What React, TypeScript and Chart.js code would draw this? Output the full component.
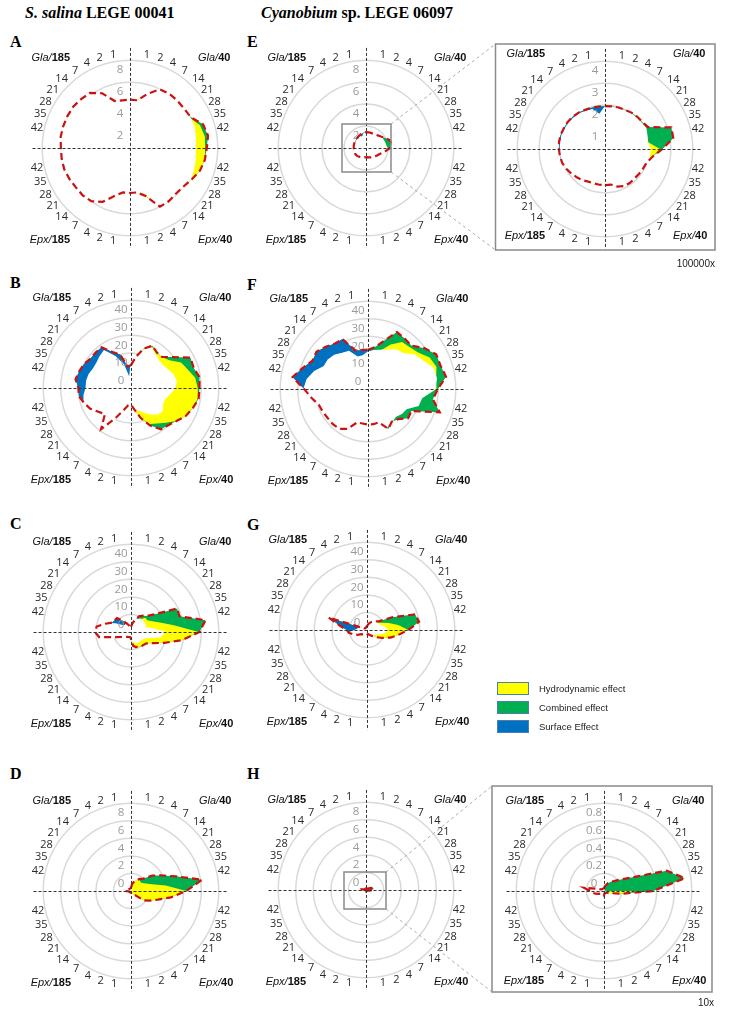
import React, { useEffect, useRef } from 'react';
import { Chart, registerables } from 'chart.js';

Chart.register(...registerables);

const _ = null;

// 40 spokes clockwise from the top; the 4 blank spokes sit on the dashed axes
const SPOKE_LABELS = [
  '', '1', '2', '4', '7', '14', '21', '28', '35', '42',
  '', '42', '35', '28', '21', '14', '7', '4', '2', '1',
  '', '1', '2', '4', '7', '14', '21', '28', '35', '42',
  '', '42', '35', '28', '21', '14', '7', '4', '2', '1',
];
const QUADRANTS: [string, string][] = [['Gla/', '185'], ['Gla/', '40'], ['Epx/', '185'], ['Epx/', '40']];
const SERIES_NAMES = ['Hydrodynamic effect', 'Combined effect', 'Surface Effect'];
const NO_BAND: (number | null)[] = [
  _, _, _, _, _, _, _, _, _, _,
  _, _, _, _, _, _, _, _, _, _,
  _, _, _, _, _, _, _, _, _, _,
  _, _, _, _, _, _, _, _, _, _,
];

// TOTAL = red dashed outline (combined effect fills up to it)
// BASE = inner white boundary (null = same as total)
// HYDRO = yellow band edge, SURF = blue band edge (null = not visible)

// ---------- A ----------
const A_TICKS = [0, 2, 4, 6, 8];
const A_TOTAL = [
  4.4, 4.4, 5.2, 6.0, 6.1, 6.1, 6.1, 6.2, 7.0, 7.2,
  7.0, 6.9, 6.7, 6.3, 6.0, 5.9, 6.0, 6.0, 4.6, 4.1,
  4.1, 4.1, 4.6, 5.5, 6.0, 6.1, 6.1, 6.2, 6.3, 6.3,
  6.3, 6.4, 6.4, 6.4, 6.4, 6.3, 6.2, 5.6, 4.5, 4.4,
];
const A_BASE = [
  _, 4.25, _, _, _, _, _, 6.1, 6.15, 6.0,
  5.95, 6.0, 6.1, 6.2, _, _, _, _, 4.3, _,
  _, _, _, _, _, _, _, _, _, _,
  _, _, _, _, _, _, _, _, _, _,
];
const A_HYDRO = [
  _, 4.4, _, _, _, _, _, _, 6.7, 6.9,
  6.85, 6.9, 6.7, 6.3, _, _, _, _, 4.6, _,
  _, _, _, _, _, _, _, _, _, _,
  _, _, _, _, _, _, _, _, _, _,
];
const A_SURF = NO_BAND;

// ---------- B ----------
const B_TICKS = [-10, 0, 10, 20, 30, 40];
const B_TOTAL = [
  3, 8, 13.6, 17, 15, 15, 20, 28, 27.5, 29.5,
  29, 29, 27, 25, 22, 20, 19, 14, 8, 2.5,
  -0.5, 0, 3, 9, 19, 11, 13, 16, 18, 20,
  20, 22, 21, 20, 18.5, 18.5, 18.6, 13, 10, 2.5,
];
const B_BASE = [
  _, 7.3, 12.5, 15.5, 13.3, 12, 12, 13, 15, 16,
  15, 12, 10, 10, 12, 11, 8, 5, 3, 1,
  _, _, _, _, _, _, _, _, _, 17,
  15.5, 15.5, 15, 14, 14, 15, 16, 10, 4, -5,
];
const B_HYDRO = [
  _, 7.8, 13, 16.5, 14.8, 14.9, 17, 22, 24, 27,
  28, 28.5, 27, 25, 22, 18, 15, 13, 8, 2.5,
  _, _, _, _, _, _, _, _, _, _,
  _, _, _, _, _, _, _, _, _, _,
];
const B_SURF = [
  _, _, _, _, _, _, _, _, _, _,
  _, _, _, _, _, _, _, _, _, _,
  _, _, _, _, _, _, _, _, _, 20,
  20, 22, 21, 20, 18.5, 18.5, 18.6, 13, 10, 2.5,
];

// ---------- C ----------
const C_TICKS = [-10, 0, 10, 20, 30, 40];
const C_TOTAL = [
  -7, -5, -3, 0, 1.5, 2.8, 7.5, 19.5, 19, 33,
  29, 19.5, 10, 4, 1, 0.3, 0, -0.5, -1, -2,
  -6, -7, -7, -6.8, -6.5, -6, -5.1, -3.7, -0.7, 8.4,
  10.5, 9.8, 5.3, 1.9, 1.5, 1.3, -2.3, -4.3, -6, -7,
];
const C_BASE = [
  _, _, _, -2, -1, -1, -1, -1, -2, 1.5,
  8.8, 7, -0.2, -2, -3, -3, -3, -3, -4, -5,
  _, _, _, _, _, _, _, _, _, _,
  _, _, _, 0, -4, -5, -5, -5, _, _,
];
const C_HYDRO = [
  _, _, _, _, _, 1.5, 1.5, 3.6, 7.3, 14.8,
  28.5, 19.5, 10, 4, 1, 0.3, 0, -0.5, -1, -2,
  _, _, _, _, _, _, _, _, _, _,
  _, _, _, _, _, _, _, _, _, _,
];
const C_SURF = [
  _, _, _, _, _, _, _, _, _, _,
  _, _, _, _, _, _, _, _, _, _,
  _, _, _, _, _, _, _, _, _, _,
  _, _, _, 1.9, 1.5, 1.3, -2.3, -4.3, _, _,
];

// ---------- D ----------
const D_TICKS = [-2, 0, 2, 4, 6, 8];
const D_TOTAL = [
  -1.6, -1.2, -0.9, -0.6, -0.3, 0, 1.0, 1.9, 3.4, 6.2,
  4.3, 2.6, 1.2, 0.4, -0.2, -1.3, -1.5, -1.7, -1.7, -1.7,
  -1.8, -1.8, -1.8, -1.8, -1.8, -1.8, -1.8, -1.8, -1.8, -1.7,
  -1.35, -1.5, -1.6, -1.7, -1.7, -1.7, -1.7, -1.7, -1.7, -1.7,
];
const D_BASE = [
  _, -2, -2, -2, -2, -2, -2, -2, -2, -2,
  -2, -2, -2, -2, -2, -2, -2, -2, -2, -2,
  _, _, _, _, _, _, _, _, _, _,
  _, _, _, _, _, _, _, _, _, _,
];
const D_HYDRO = [
  _, -1.2, -0.9, -0.6, -0.4, -0.5, -0.47, -0.1, 0.53, 2.0,
  4.3, 2.6, 1.2, 0.4, -0.2, -1.3, -1.5, -1.7, -1.7, -1.7,
  _, _, _, _, _, _, _, _, _, _,
  _, _, _, _, _, _, _, _, _, _,
];
const D_SURF = NO_BAND;

// ---------- E ----------
const E_TICKS = [0, 2, 4, 6, 8];
const E_TOTAL = [
  1.45, 1.45, 1.45, 1.45, 1.5, 1.6, 1.75, 2.0, 2.3, 2.35,
  2.2, 1.8, 1.5, 1.3, 1.2, 1.1, 1.0, 0.95, 0.9, 0.85,
  0.85, 0.85, 0.9, 0.95, 1.0, 1.05, 1.1, 1.12, 1.12, 1.12,
  1.12, 1.13, 1.15, 1.15, 1.15, 1.2, 1.25, 1.3, 1.35, 1.4,
];
const E_BASE = [
  1.4, _, _, _, _, _, _, 1.7, 1.75, 1.8,
  1.85, 1.7, _, _, _, _, _, _, _, 0.7,
  0.7, _, _, _, _, _, _, _, _, _,
  _, _, _, 1.05, 1.05, 1.08, 1.1, 1.15, 1.0, 1.3,
];
const E_HYDRO = [
  _, _, _, _, _, _, _, _, _, _,
  2.0, 1.8, _, _, _, _, _, _, _, 0.85,
  0.85, _, _, _, _, _, _, _, _, _,
  _, _, _, _, _, _, _, _, _, _,
];
const E_SURF = [
  1.45, _, _, _, _, _, _, _, _, _,
  _, _, _, _, _, _, _, _, _, _,
  _, _, _, _, _, _, _, _, _, _,
  _, _, _, 1.15, 1.15, 1.2, 1.25, 1.3, 1.35, 1.4,
];

// ---------- E zoom (100000x) ----------
const EZ_TICKS = [0, 1, 2, 3, 4];
const EZ_TOTAL = [
  1.95, 1.97, 1.99, 2.0, 2.05, 2.08, 2.1, 2.2, 3.18, 3.15,
  2.62, 2.2, 2.0, 1.95, 1.92, 1.9, 1.92, 1.9, 1.8, 1.64,
  1.65, 1.65, 1.65, 1.67, 1.75, 1.82, 1.9, 1.98, 2.05, 2.08,
  2.1, 2.12, 2.12, 2.1, 2.1, 2.08, 2.05, 2.0, 1.98, 1.96,
];
const EZ_BASE = [
  1.9, 1.92, 1.94, 1.95, 1.99, 2.01, 2.03, 2.08, 2.0, 1.95,
  2.05, 2.05, _, _, _, _, _, _, _, 1.58,
  1.58, _, _, _, _, _, _, _, _, 2.03,
  2.03, 2.04, 2.05, 2.03, 2.03, 2.0, 1.97, 1.92, 1.88, 1.58,
];
const EZ_HYDRO = [
  _, _, _, _, _, _, _, _, _, 2.0,
  2.5, 2.2, _, _, _, _, _, _, _, 1.64,
  1.65, _, _, _, _, _, _, _, _, _,
  _, _, _, _, _, _, _, _, _, _,
];
const EZ_SURF = [
  1.95, _, _, _, _, _, _, _, _, _,
  _, _, _, _, _, _, _, _, _, _,
  _, _, _, _, _, _, _, _, _, 2.08,
  2.1, 2.12, 2.12, 2.1, 2.1, 2.08, 2.05, 2.0, 1.98, 1.96,
];

// ---------- F ----------
const F_TICKS = [-10, 0, 10, 20, 30, 40];
const F_TOTAL = [
  12.4, 14, 18.7, 26.4, 25.5, 25, 29.6, 33.6, 33.4, 35,
  29.8, 27.4, 33, 17.7, 18.3, 14.3, 13, 15.5, 10, 10.3,
  10.3, 9.9, 10, 15.5, 18, 18.3, 18.3, 18.8, 19.4, 22.5,
  26.4, 33.5, 29, 25.5, 26.2, 24, 22, 21.9, 13, 12.5,
];
const F_BASE = [
  11, 12, 13, 14.7, 17.5, 18.3, 22.8, 25, 28.9, 29.3,
  28, 21, 20, 14.5, 13.6, 12, _, 14, _, _,
  _, _, _, _, _, _, _, _, _, _,
  _, 25, 22, 18, 18, 17, 15, 14, 9, 9,
];
const F_HYDRO = [
  _, _, _, 18.5, 23, 23.6, 25.3, 29.4, 31, _,
  29, _, _, _, _, _, _, _, _, _,
  _, _, _, _, _, _, _, _, _, _,
  _, _, _, _, _, _, _, _, _, _,
];
const F_SURF = [
  12.4, _, _, _, _, _, _, _, _, _,
  _, _, _, _, _, _, _, _, _, _,
  _, _, _, _, _, _, _, _, _, _,
  26.4, 33.5, 29, 25.5, 26.2, 24, 22, 21.9, 13, 12.5,
];

// ---------- G ----------
const G_TICKS = [-10, 0, 10, 20, 30, 40];
const G_TOTAL = [
  -8, -7, -6, -5, -4, -3, -1.5, 6, 18.8, 20,
  13.5, 8, 4, 0, -3, -5, -6, -7, -7.5, -7.5,
  -7, -7, -7, -7, -7, -6.5, -6, -4, -2, 0.5,
  1.5, 5.6, 13, -8, -8.5, -8.5, -8.5, -8.5, -8.5, -8,
];
const G_BASE = [
  _, _, _, _, _, _, -3, -3, -2, 0,
  1.5, 0, -3, -5, -6, _, _, _, _, _,
  _, _, _, _, _, _, _, _, _, _,
  -4, -5, -6, _, _, _, _, _, _, _,
];
const G_HYDRO = [
  _, _, _, _, _, _, _, -1, 3, 8,
  13.5, 8, 4, 0, -3, _, _, _, _, _,
  _, _, _, _, _, _, _, _, _, _,
  _, _, _, _, _, _, _, _, _, _,
];
const G_SURF = [
  _, _, _, _, _, _, _, _, _, _,
  _, _, _, _, _, _, _, _, _, _,
  _, _, _, _, _, _, _, _, _, _,
  1.5, 5.6, 13, _, _, _, _, _, _, _,
];

// ---------- H ----------
const H_TICKS = [-2, 0, 2, 4, 6, 8];
const H_TOTAL = [
  -1.85, -1.8, -1.8, -1.8, -1.8, -1.8, -1.7, -1.5, -1.2, -1.1,
  -1.3, -1.6, -1.8, -1.85, -1.85, -1.85, -1.85, -1.85, -1.85, -1.85,
  -1.8, -1.8, -1.8, -1.8, -1.8, -1.8, -1.8, -1.8, -1.8, -1.8,
  -1.55, -1.5, -1.75, -1.85, -1.85, -1.85, -1.85, -1.85, -1.85, -1.85,
];
const H_BASE = [
  _, _, _, _, _, _, -2, -2, -2, -2,
  -2, -2, _, _, _, _, _, _, _, _,
  _, _, _, _, _, _, _, _, _, _,
  _, _, _, _, _, _, _, _, _, _,
];
const H_HYDRO = NO_BAND;
const H_SURF = NO_BAND;

// ---------- H zoom (10x) ----------
const HZ_TICKS = [-0.2, 0, 0.2, 0.4, 0.6, 0.8];
const HZ_TOTAL = [
  -0.17, -0.15, -0.13, -0.1, -0.07, -0.04, 0.02, 0.13, 0.55, 0.73,
  0.36, 0.0, -0.12, -0.15, -0.17, -0.17, -0.17, -0.17, -0.17, -0.17,
  -0.15, -0.16, -0.16, -0.16, -0.16, -0.16, -0.15, -0.13, -0.1, -0.07,
  -0.04, 0.03, -0.12, -0.16, -0.17, -0.17, -0.17, -0.17, -0.17, -0.17,
];
const HZ_BASE = [
  _, -0.2, -0.2, -0.2, -0.2, -0.2, -0.2, -0.2, -0.2, -0.2,
  -0.2, -0.2, -0.2, _, _, _, _, _, _, _,
  _, _, _, _, _, _, _, _, _, _,
  _, _, _, _, _, _, _, _, _, _,
];
const HZ_HYDRO = [
  _, _, _, _, _, _, _, _, _, _,
  0.2, 0.0, -0.12, _, _, _, _, _, _, _,
  _, _, _, _, _, _, _, _, _, _,
  _, _, _, _, _, _, _, _, _, _,
];
const HZ_SURF = NO_BAND;

// ---------- styling ----------
const RED = '#cc1111';
const YELLOW = '#ffff00';
const GREEN = '#00b050';
const BLUE = '#0070c0';
const S = 202;
const HALF = 101;
const SANS = '"Liberation Sans", Arial, sans-serif';
const SERIF = '"Liberation Serif", "Times New Roman", serif';

type Panel = {
  total: number[];
  base: (number | null)[];
  hydro: (number | null)[];
  surf: (number | null)[];
  ticks: number[];
};

const PANELS: Record<string, Panel> = {
  A: { total: A_TOTAL, base: A_BASE, hydro: A_HYDRO, surf: A_SURF, ticks: A_TICKS },
  B: { total: B_TOTAL, base: B_BASE, hydro: B_HYDRO, surf: B_SURF, ticks: B_TICKS },
  C: { total: C_TOTAL, base: C_BASE, hydro: C_HYDRO, surf: C_SURF, ticks: C_TICKS },
  D: { total: D_TOTAL, base: D_BASE, hydro: D_HYDRO, surf: D_SURF, ticks: D_TICKS },
  E: { total: E_TOTAL, base: E_BASE, hydro: E_HYDRO, surf: E_SURF, ticks: E_TICKS },
  EZ: { total: EZ_TOTAL, base: EZ_BASE, hydro: EZ_HYDRO, surf: EZ_SURF, ticks: EZ_TICKS },
  F: { total: F_TOTAL, base: F_BASE, hydro: F_HYDRO, surf: F_SURF, ticks: F_TICKS },
  G: { total: G_TOTAL, base: G_BASE, hydro: G_HYDRO, surf: G_SURF, ticks: G_TICKS },
  H: { total: H_TOTAL, base: H_BASE, hydro: H_HYDRO, surf: H_SURF, ticks: H_TICKS },
  HZ: { total: HZ_TOTAL, base: HZ_BASE, hydro: HZ_HYDRO, surf: HZ_SURF, ticks: HZ_TICKS },
};

function RadarPanel({ panel, cx, cy }: { panel: Panel; cx: number; cy: number }) {
  const ref = useRef<HTMLCanvasElement>(null);
  useEffect(() => {
    const total = panel.total;
    const base = panel.base.map((v, i) => (v === null ? total[i] : v));
    const hydro = panel.hydro.map((v, i) => (v === null ? base[i] : v));
    const surf = panel.surf.map((v, i) => (v === null ? base[i] : v));
    const ticks = panel.ticks;
    const decor = {
      id: 'decor',
      beforeDatasetDraw(chart: any, args: any) {
        if (args.index !== 0) return;
        const s = chart.scales.r;
        const ctx = chart.ctx;
        ctx.save();
        ctx.font = '11.5px "Open Sans", sans-serif';
        ctx.fillStyle = '#9a9a9a';
        ctx.textAlign = 'center';
        ctx.textBaseline = 'middle';
        ticks.forEach((v, i) => {
          if (i === 0) return;
          const d = s.getDistanceFromCenterForValue(v);
          ctx.fillText(String(v), s.xCenter - 10, s.yCenter - d + 10);
        });
        ctx.restore();
      },
      afterDatasetsDraw(chart: any) {
        const s = chart.scales.r;
        const ctx = chart.ctx;
        const r = s.drawingArea;
        ctx.save();
        ctx.strokeStyle = '#333';
        ctx.lineWidth = 1;
        ctx.setLineDash([3, 2]);
        ctx.beginPath();
        ctx.moveTo(s.xCenter - r * 1.11, s.yCenter + 0.5);
        ctx.lineTo(s.xCenter + r * 1.11, s.yCenter + 0.5);
        ctx.moveTo(s.xCenter + 0.5, s.yCenter - r * 1.14);
        ctx.lineTo(s.xCenter + 0.5, s.yCenter + r * 1.14);
        ctx.stroke();
        ctx.restore();
      },
    };
    const none = 'rgba(0,0,0,0)';
    const chart = new Chart(ref.current as HTMLCanvasElement, {
      type: 'radar',
      data: {
        labels: SPOKE_LABELS,
        datasets: [
          { label: 'outline', data: total, borderColor: RED, borderWidth: 2.2, borderDash: [7, 4], fill: false, backgroundColor: none },
          { label: 'base', data: base, borderColor: '#ffffff', borderWidth: 1.5, backgroundColor: '#ffffff', fill: 'start' },
          { label: SERIES_NAMES[2], data: surf, borderColor: none, borderWidth: 0, backgroundColor: BLUE, fill: 'start' },
          { label: SERIES_NAMES[0], data: hydro, borderColor: none, borderWidth: 0, backgroundColor: YELLOW, fill: 'start' },
          { label: SERIES_NAMES[1], data: total, borderColor: none, borderWidth: 0, backgroundColor: GREEN, fill: 'start' },
        ],
      },
      options: {
        responsive: false,
        animation: false,
        events: [],
        layout: { padding: 0 },
        plugins: { legend: { display: false }, tooltip: { enabled: false } },
        elements: { point: { radius: 0 }, line: { tension: 0 } },
        scales: {
          r: {
            min: ticks[0],
            max: ticks[ticks.length - 1],
            ticks: { display: false, stepSize: ticks[1] - ticks[0] },
            grid: { circular: true, color: '#d9d9d9', lineWidth: 1.5 },
            angleLines: { display: false },
            pointLabels: { display: true, padding: 0, color: '#2a2a2a', font: { family: '"Open Sans", sans-serif', size: 11 } },
          },
        },
      } as any,
      plugins: [decor],
    });
    return () => chart.destroy();
  }, [panel]);
  return (
    <canvas
      ref={ref}
      width={S}
      height={S}
      style={{ position: 'absolute', left: cx - HALF, top: cy - HALF, width: S, height: S }}
    />
  );
}

function Corner({ x, y, right, q }: { x: number; y: number; right: boolean; q: [string, string] }) {
  return (
    <div
      style={{
        position: 'absolute', left: x, top: y,
        transform: right ? 'translate(-100%, -50%)' : 'translate(0, -50%)',
        font: `11px ${SANS}`, color: '#111', whiteSpace: 'nowrap', lineHeight: 1,
      }}
    >
      <i>{q[0]}</i>
      <b>{q[1]}</b>
    </div>
  );
}

const LAYOUT = [
  { key: 'A', cx: 130, cy: 148, top: -91, bottom: 91 },
  { key: 'E', cx: 366, cy: 148, top: -91, bottom: 91 },
  { key: 'EZ', cx: 605, cy: 149, top: -96, bottom: 86 },
  { key: 'B', cx: 131, cy: 388, top: -91, bottom: 91 },
  { key: 'F', cx: 368, cy: 389, top: -91, bottom: 91 },
  { key: 'C', cx: 131, cy: 632, top: -91, bottom: 91 },
  { key: 'G', cx: 367, cy: 630, top: -91, bottom: 91 },
  { key: 'D', cx: 131, cy: 891, top: -91, bottom: 91 },
  { key: 'H', cx: 366, cy: 890, top: -91, bottom: 91 },
  { key: 'HZ', cx: 604, cy: 891, top: -91, bottom: 89 },
];

const LETTERS = [
  { t: 'A', x: 10, y: 42 }, { t: 'E', x: 247, y: 42 },
  { t: 'B', x: 10, y: 283 }, { t: 'F', x: 247, y: 285 },
  { t: 'C', x: 10, y: 524 }, { t: 'G', x: 247, y: 525 },
  { t: 'D', x: 10, y: 774 }, { t: 'H', x: 247, y: 774 },
];

const LEGEND = [
  { name: SERIES_NAMES[0], color: YELLOW, y: 688 },
  { name: SERIES_NAMES[1], color: GREEN, y: 707 },
  { name: SERIES_NAMES[2], color: BLUE, y: 725.5 },
];

export default function App() {
  return (
    <div style={{ position: 'absolute', left: 0, top: 0, width: 729, height: 1014, background: '#fff', overflow: 'hidden' }}>
      <div style={{ position: 'absolute', left: 25, top: 13, transform: 'translateY(-50%)', font: `bold 16px ${SERIF}`, whiteSpace: 'nowrap' }}>
        <i>S. salina</i> LEGE 00041
      </div>
      <div style={{ position: 'absolute', left: 261, top: 13, transform: 'translateY(-50%)', font: `bold 16px ${SERIF}`, whiteSpace: 'nowrap' }}>
        <i>Cyanobium</i> sp. LEGE 06097
      </div>
      {LETTERS.map((l) => (
        <div key={l.t} style={{ position: 'absolute', left: l.x, top: l.y, transform: 'translateY(-50%)', font: `bold 16px ${SERIF}`, lineHeight: 1 }}>
          {l.t}
        </div>
      ))}
      {LAYOUT.map((p) => (
        <RadarPanel key={p.key} panel={PANELS[p.key]} cx={p.cx} cy={p.cy} />
      ))}
      {LAYOUT.map((p) => (
        <React.Fragment key={'c' + p.key}>
          <Corner x={p.cx - 60} y={p.cy + p.top} right q={QUADRANTS[0]} />
          <Corner x={p.cx + 68} y={p.cy + p.top} right={false} q={QUADRANTS[1]} />
          <Corner x={p.cx - 60} y={p.cy + p.bottom} right q={QUADRANTS[2]} />
          <Corner x={p.cx + 68} y={p.cy + p.bottom} right={false} q={QUADRANTS[3]} />
        </React.Fragment>
      ))}
      <svg width={729} height={1014} style={{ position: 'absolute', left: 0, top: 0, pointerEvents: 'none' }}>
        <rect x={495.5} y={44} width={219.5} height={206} fill="none" stroke="#8a8a8a" strokeWidth={1.5} />
        <rect x={492} y={786} width={220} height={206} fill="none" stroke="#8a8a8a" strokeWidth={1.5} />
        <rect x={342} y={124} width={49} height={48} fill="none" stroke="#8a8a8a" strokeWidth={1.5} />
        <rect x={344} y={872} width={42} height={37} fill="none" stroke="#8a8a8a" strokeWidth={1.5} />
        <g stroke="#aaaaaa" strokeWidth={1} strokeDasharray="3 3">
          <line x1={391} y1={124} x2={495.5} y2={44} />
          <line x1={391} y1={172} x2={495.5} y2={250} />
          <line x1={386} y1={872} x2={492} y2={786} />
          <line x1={386} y1={909} x2={492} y2={992} />
        </g>
      </svg>
      <div style={{ position: 'absolute', left: 715, top: 263, transform: 'translate(-100%, -50%)', font: `10px ${SANS}`, color: '#222' }}>100000x</div>
      <div style={{ position: 'absolute', left: 714, top: 1002, transform: 'translate(-100%, -50%)', font: `10px ${SANS}`, color: '#222' }}>10x</div>
      {LEGEND.map((l) => (
        <React.Fragment key={l.name}>
          <div style={{ position: 'absolute', left: 497, top: l.y - 6, width: 30, height: 11, background: l.color, border: '1.5px solid #4a7fb0' }} />
          <div style={{ position: 'absolute', left: 539, top: l.y, transform: 'translateY(-50%)', font: `9.5px ${SANS}`, color: '#222', whiteSpace: 'nowrap' }}>{l.name}</div>
        </React.Fragment>
      ))}
    </div>
  );
}
